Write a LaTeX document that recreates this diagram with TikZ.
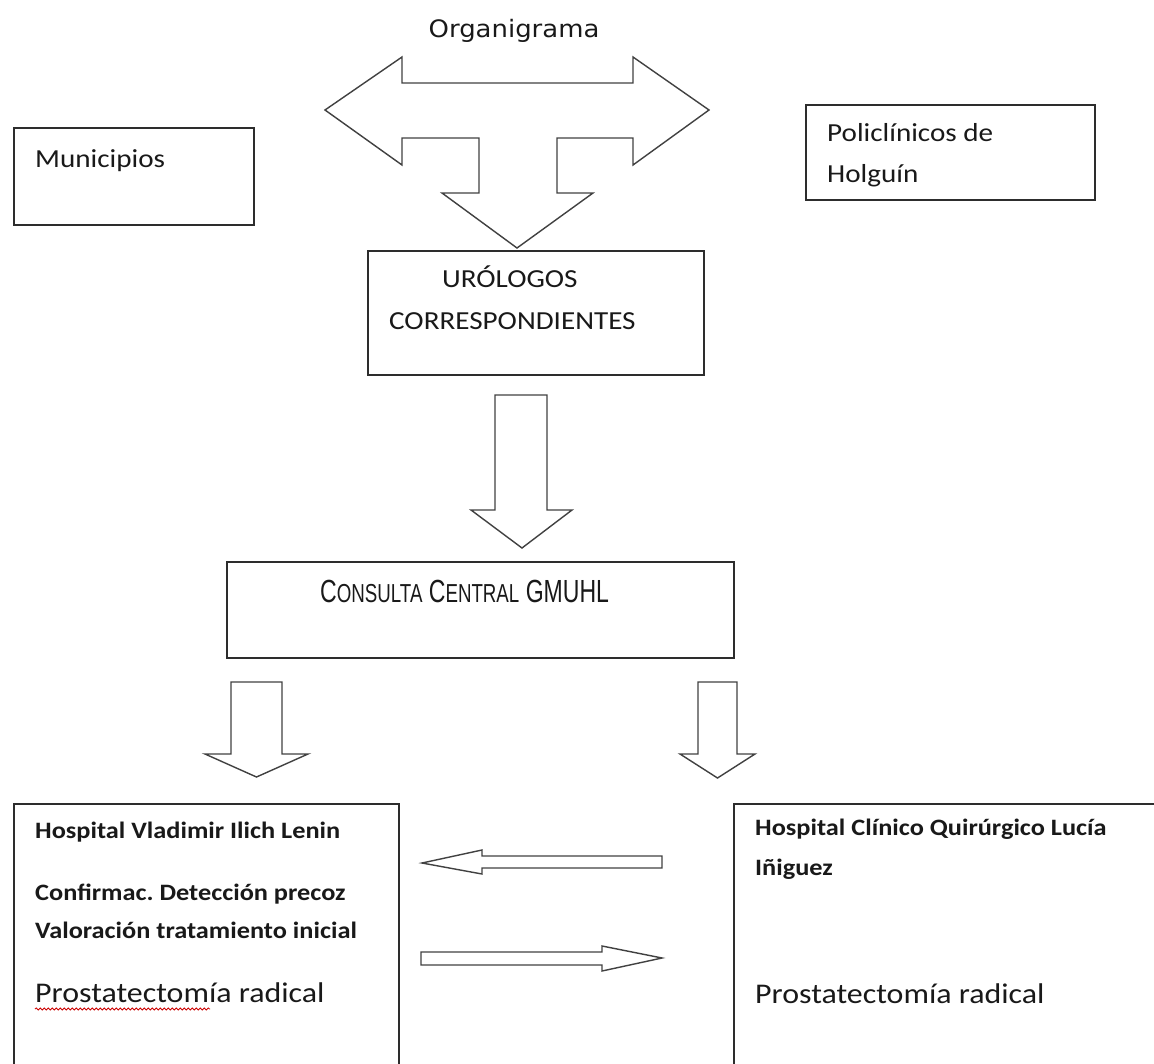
\documentclass[tikz,border=0pt]{standalone}
\usepackage{fontspec}
\usetikzlibrary{decorations.pathmorphing}
\newfontfamily\calfont[FakeStretch=1.12]{Carlito}
\newfontfamily\verdfont[FakeStretch=1.08]{DejaVu Sans}
\newfontfamily\narrowfont[FakeStretch=0.72]{Liberation Sans}
\newcommand{\mysc}[1]{{\fontsize{26}{30}\selectfont #1}}
\definecolor{ink}{RGB}{25,25,25}
\definecolor{edge}{RGB}{45,45,45}
\definecolor{aedge}{RGB}{65,65,65}
\frenchspacing
\begin{document}
\begin{tikzpicture}[x=1pt,y=-1pt,
  box/.style={draw=edge, line width=1.8pt, inner sep=0pt, anchor=north west},
  blockarrow/.style={draw=aedge, line width=1.4pt, line join=miter, fill=white},
  txt/.style={anchor=base west, inner sep=0pt, text=ink, font=\calfont\fontsize{26}{30}\selectfont},
  btxt/.style={anchor=base west, inner sep=0pt, text=ink, font=\calfont\bfseries\fontsize{23.5}{28}\selectfont},
  bigtxt/.style={anchor=base west, inner sep=0pt, text=ink, font=\calfont\fontsize{28.5}{33}\selectfont}]
\useasboundingbox (0,0) rectangle (1154,1063);
\clip (0,0) rectangle (1154,1063);
\fill[white] (0,0) rectangle (1154,1063);

% title
\node[anchor=base, inner sep=0pt, text=ink, font=\verdfont\fontsize{24}{28}\selectfont] (title) at (514,37) {Organigrama};

% T-shaped block arrow
\draw[blockarrow] (325,110) -- (402,57) -- (402,83) -- (633,83) -- (633,57) -- (709,110)
  -- (633,165) -- (633,138) -- (557,138) -- (557,193) -- (593,193) -- (517,248)
  -- (442,193) -- (479,193) -- (479,138) -- (402,138) -- (402,165) -- cycle;

% boxes
\node[box, minimum width=240pt, minimum height=97pt] (muni) at (13,127) {};
\node[box, minimum width=289pt, minimum height=95pt] (poli) at (805,104) {};
\node[box, minimum width=336pt, minimum height=124pt] (uro) at (367,250) {};
\node[box, minimum width=507pt, minimum height=96pt] (cons) at (226,561) {};
\node[box, minimum width=385pt, minimum height=300pt] (lenin) at (13,803) {};
\node[box, minimum width=450pt, minimum height=300pt] (lucia) at (733,803) {};

% texts
\node[txt] (tmuni) at (35,167) {Municipios};
\node[txt] (tpoli1) at (827,141) {Policlínicos de};
\node[txt] (tpoli2) at (827,182) {Holguín};
\node[txt] (turo1) at (442,287) {URÓLOGOS};
\node[txt] (turo2) at (389,329) {CORRESPONDIENTES};
\node[anchor=base west, inner sep=0pt, text=ink, font=\narrowfont\fontsize{32}{36}\selectfont] (tcons) at (320,602)
  {C\mysc{ONSULTA} C\mysc{ENTRAL} GMUHL};
\node[btxt] (tl1) at (35,838) {Hospital Vladimir Ilich Lenin};
\node[btxt] (tl2) at (35,900) {Confirmac. Detección precoz};
\node[btxt] (tl3) at (35,938) {Valoración tratamiento inicial};
\node[bigtxt] (tl4) at (35,1002) {Prostatectomía radical};
\node[btxt] (tr1) at (755,835) {Hospital Clínico Quirúrgico Lucía};
\node[btxt] (tr2) at (755,875) {Iñiguez};
\node[bigtxt] (tr3) at (755,1003) {Prostatectomía radical};

% spell-check squiggle
\draw[red!80!black, line width=0.8pt, decorate, decoration={snake, amplitude=1.1pt, segment length=4pt}] (35,1009) -- (210,1009);

% down arrow under urologos
\draw[blockarrow] (495,395) -- (547,395) -- (547,510) -- (572,510) -- (522,548) -- (471,510) -- (495,510) -- cycle;

% down arrows under consulta
\draw[blockarrow] (231,682) -- (282,682) -- (282,754) -- (308,754) -- (256.5,777) -- (205,754) -- (231,754) -- cycle;
\draw[blockarrow] (698,682) -- (737,682) -- (737,754) -- (755,754) -- (717.5,778) -- (680,754) -- (698,754) -- cycle;

% horizontal arrows
\draw[blockarrow] (422,863) -- (482,850) -- (482,856) -- (662,856) -- (662,868) -- (482,868) -- (482,874) -- cycle;
\draw[blockarrow] (421,952) -- (602,952) -- (602,946) -- (662,958) -- (602,971) -- (602,965) -- (421,965) -- cycle;
\end{tikzpicture}
\end{document}
